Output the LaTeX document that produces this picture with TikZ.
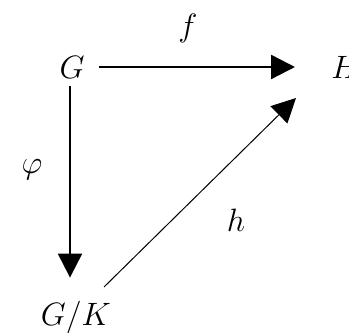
\documentclass[tikz,border=0pt]{standalone}
\usepackage{amsmath,amssymb}
\usepackage{tikz}
\usetikzlibrary{arrows.meta, positioning, calc}

\begin{document}
\begin{tikzpicture}[
    x=1pt, y=-1pt,
    obj/.style={inner sep=0pt, font=\Huge, scale=1.3},
    lbl/.style={inner sep=0pt, font=\Huge, scale=1.3},
    arr/.style={-{Triangle[length=24pt,width=24pt]}, line width=2.4pt},
    thinarr/.style={-{Triangle[length=24pt,width=24pt]}, line width=1pt},
  ]
    \useasboundingbox (0,0) rectangle (349,334);
    \clip (0,0) rectangle (349,334);
    \node[obj] (G) at (72,67) {$G$};
    \node[obj, anchor=west] (H) at (331,67) {$H$};
    \node[obj] (GK) at (76,317) {$G/K$};
    \coordinate (hstart) at (104,287);
    \coordinate (hend) at (296,98);

    \draw[arr, shorten <=14pt, shorten >=36pt] (G.east) -- (H.west);
    \draw[arr, shorten <=8pt, shorten >=23pt] (G.south -| 70,0) -- (70,0 |- GK.north);
    \draw[thinarr] (hstart) -- (hend);

    \node[lbl] (flbl) at (188,28) {$f$};
    \node[lbl] (philbl) at (32,170) {$\varphi$};
    \node[lbl] (hlbl) at (236,220) {$h$};
  \end{tikzpicture}
\end{document}
